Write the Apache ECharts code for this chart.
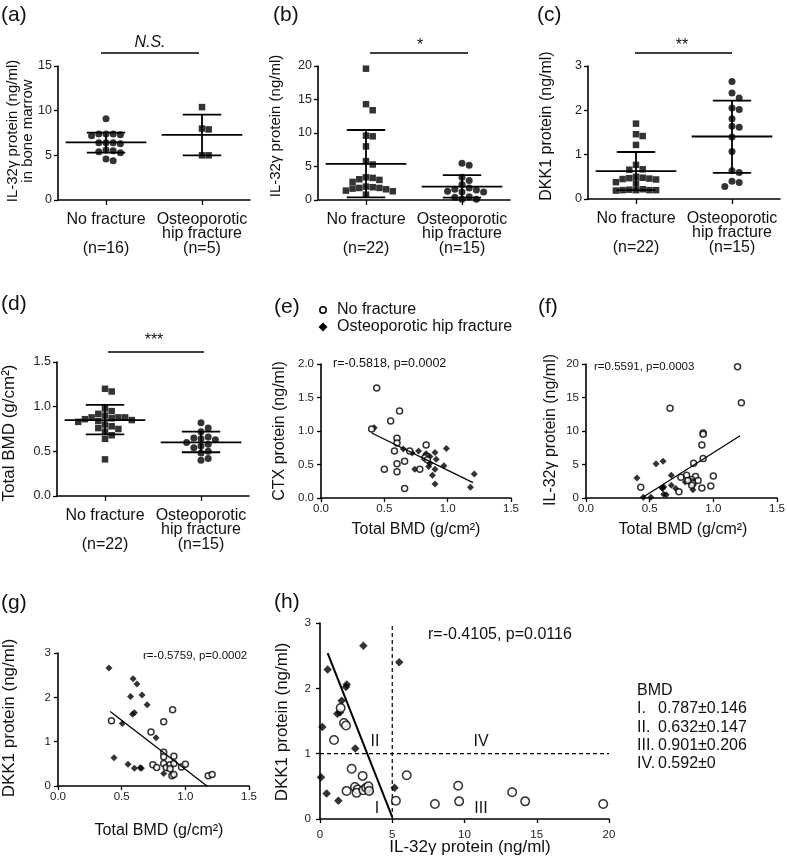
<!DOCTYPE html>
<html><head><meta charset="utf-8">
<script src="https://cdn.jsdelivr.net/npm/echarts@6/dist/echarts.min.js"></script>
<style>html,body{margin:0;padding:0;background:#fff}#c{width:787px;height:865px}</style>
</head><body><div id="c"></div>
<script>
// ---------- DATA ----------
const catNames = ['No fracture', 'Osteoporotic\nhip fracture'];
const nA = ['(n=16)', '(n=5)'];
const nB = ['(n=22)', '(n=15)'];
const nC = ['(n=22)', '(n=15)'];
const nD = ['(n=22)', '(n=15)'];

// (a) IL-32γ in bone marrow
const aNoFx = [9.1, 7.4, 7.4, 7.3, 7.4, 7.2, 6.4, 6.3, 6.4, 6.4, 5.6, 5.4, 5.5, 5.3, 4.6, 4.4];
const aFx = [10.4, 8.0, 7.9, 5.0, 5.0];
const aMean = [6.45, 7.28], aLo = [5.3, 5.0], aHi = [7.55, 9.55];
// (b) IL-32γ serum
const bNoFx = [19.6, 14.3, 13.4, 9.6, 9.5, 8.0, 5.8, 5.3, 3.4, 3.3, 3.1, 3.0, 2.7, 2.0, 1.9, 1.8, 1.8, 1.7, 1.6, 1.4, 1.3, 0.8];
const bFx = [5.5, 5.2, 3.4, 2.9, 2.3, 1.8, 1.6, 1.5, 1.3, 1.2, 1.2, 0.5, 0.4, 0.1, 0.1];
const bMean = [5.4, 2.0], bLo = [0.4, 0.35], bHi = [10.45, 3.7];
// (c) DKK1
const cNoFx = [1.7, 1.46, 1.42, 1.22, 0.77, 0.67, 0.66, 0.5, 0.48, 0.47, 0.46, 0.45, 0.44, 0.38, 0.35, 0.22, 0.21, 0.2, 0.2, 0.2, 0.2, 0.19];
const cFx = [2.65, 2.39, 2.28, 2.05, 2.02, 1.81, 1.64, 1.62, 1.4, 1.07, 0.64, 0.6, 0.4, 0.37, 0.28];
const cMean = [0.63, 1.41], cLo = [0.2, 0.59], cHi = [1.06, 2.22];
// (d) Total BMD
const dNoFx = [1.2, 1.17, 0.98, 0.95, 0.92, 0.9, 0.88, 0.88, 0.88, 0.87, 0.86, 0.85, 0.84, 0.83, 0.8, 0.78, 0.76, 0.75, 0.72, 0.68, 0.64, 0.41];
const dFx = [0.82, 0.76, 0.72, 0.66, 0.65, 0.64, 0.63, 0.6, 0.58, 0.56, 0.54, 0.5, 0.48, 0.42, 0.4];
const dMean = [0.85, 0.6], dLo = [0.69, 0.49], dHi = [1.02, 0.72];

// (e) BMD vs CTX
const eNoFx = [[0.44,1.64],[0.62,1.3],[0.55,1.15],[0.40,1.03],[0.60,0.89],[0.60,0.82],[0.58,0.70],[0.70,0.70],[0.83,0.79],[0.66,0.55],[0.60,0.51],[0.50,0.43],[0.60,0.39],[0.78,0.43],[0.66,0.14],[0.83,0.62],[0.82,0.60],[0.84,0.57]];
const eFx = [[0.42,1.05],[0.65,0.73],[0.72,0.67],[0.77,0.70],[0.83,0.66],[0.86,0.62],[0.90,0.68],[0.99,0.74],[0.91,0.58],[0.86,0.52],[0.85,0.47],[0.97,0.48],[0.90,0.43],[0.88,0.34],[0.90,0.21],[1.18,0.16],[1.21,0.36],[0.74,0.43]];
const eFit = [[0.40,0.97],[1.20,0.23]];
const eStat = 'r=-0.5818, p=0.0002';
// (f) BMD vs IL-32γ
const fNoFx = [[1.19,19.6],[1.22,14.2],[0.66,13.4],[0.92,9.7],[0.92,9.5],[0.91,7.9],[0.92,5.9],[0.845,5.2],[1.0,3.3],[0.79,3.4],[0.745,3.1],[0.86,3.2],[0.83,2.75],[0.83,2.4],[0.84,2.15],[0.83,1.9],[0.88,2.6],[0.98,1.8],[0.91,1.5],[0.80,2.6],[0.43,1.6],[0.73,0.95]];
const fFx = [[0.40,3.0],[0.55,5.1],[0.605,5.5],[0.67,3.4],[0.78,2.4],[0.67,1.9],[0.61,1.65],[0.60,1.4],[0.705,1.4],[0.61,0.55],[0.63,0.5],[0.84,1.25],[0.45,0.1],[0.51,0.1],[0.60,1.55]];
const fFit = [[0.45,0.15],[1.21,9.3]];
const fStat = 'r=0.5591, p=0.0003';
// (g) BMD vs DKK1
const gNoFx = [[0.42,1.47],[0.90,1.72],[0.83,1.45],[0.73,1.22],[0.83,0.76],[0.83,0.66],[0.91,0.67],[0.745,0.48],[0.775,0.42],[0.83,0.51],[0.85,0.42],[0.88,0.48],[0.91,0.51],[0.88,0.39],[0.97,0.43],[1.0,0.49],[0.895,0.23],[0.91,0.26],[1.18,0.23],[1.21,0.26]];
const gFx = [[0.40,2.66],[0.59,2.42],[0.62,2.3],[0.57,2.02],[0.66,2.05],[0.70,1.83],[0.585,1.62],[0.60,1.65],[0.505,1.41],[0.77,1.09],[0.44,0.64],[0.55,0.49],[0.60,0.4],[0.645,0.41],[0.655,0.4],[0.83,0.28]];
const gFit = [[0.41,1.68],[1.17,0.0]];
const gStat = 'r=-0.5759, p=0.0002';
// (h) IL-32γ vs DKK1
const hNoFx = [[0.97,1.21],[1.43,1.7],[1.66,1.47],[1.8,1.43],[2.19,0.77],[2.95,0.66],[1.84,0.43],[2.42,0.49],[2.6,0.45],[2.53,0.40],[3.0,0.44],[3.2,0.48],[3.35,0.5],[3.4,0.43],[6.0,0.67],[5.25,0.28],[7.95,0.23],[9.56,0.51],[9.63,0.27],[13.3,0.41],[14.2,0.27],[19.6,0.23]];
const hFx = [[0.53,2.29],[3.0,2.65],[5.48,2.4],[1.8,2.02],[1.85,2.06],[1.5,1.81],[1.38,1.63],[1.2,1.61],[0.16,1.41],[2.44,1.08],[0.07,0.64],[0.46,0.39],[1.27,0.28],[5.16,0.48],[3.45,0.42]];
const hFit = [[0.53,2.54],[5.0,0.03]];
const hCutX = 5, hCutY = 1;
const hStat = 'r=-0.4105, p=0.0116';
const quadNames = ['I.', 'II.', 'III.', 'IV.'];
const quadMean = ['0.787', '0.632', '0.901', '0.592'];
const quadSd = ['0.146', '0.147', '0.206', '0'];
const quadLabels = ['I', 'II', 'III', 'IV'];
const legendNames = ['No fracture', 'Osteoporotic hip fracture'];

// ---------- LAYOUT ----------
const FF = '"Liberation Sans", Arial, Helvetica, sans-serif';
const grids = [
  {left:58, top:66, width:192, height:134},
  {left:318, top:66, width:192, height:134},
  {left:588, top:66, width:192, height:133},
  {left:57, top:362, width:192, height:134},
  {left:321, top:364, width:190, height:134},
  {left:586, top:364, width:191, height:134},
  {left:58, top:653, width:191, height:133},
  {left:320, top:623, width:289, height:196}
];

const dotPanels = [
  {g:0, yMax:15, yInt:5, dec:0, ns:nA, v1:aNoFx, v2:aFx, s1:'circle', s2:'rect', mean:aMean, lo:aLo, hi:aHi},
  {g:1, yMax:20, yInt:5, dec:0, ns:nB, v1:bNoFx, v2:bFx, s1:'rect', s2:'circle', mean:bMean, lo:bLo, hi:bHi},
  {g:2, yMax:3, yInt:1, dec:0, ns:nC, v1:cNoFx, v2:cFx, s1:'rect', s2:'circle', mean:cMean, lo:cLo, hi:cHi},
  {g:3, yMax:1.5, yInt:0.5, dec:1, ns:nD, v1:dNoFx, v2:dFx, s1:'rect', s2:'circle', mean:dMean, lo:dLo, hi:dHi}
];
const scatPanels = [
  {g:4, xMax:1.5, xInt:0.5, xDec:1, yMax:2.0, yInt:0.5, yDec:1, circ:eNoFx, dia:eFx, fit:eFit, cs:6, ds:7, lw:1.3},
  {g:5, xMax:1.5, xInt:0.5, xDec:1, yMax:20, yInt:5, yDec:0, circ:fNoFx, dia:fFx, fit:fFit, cs:6, ds:7, lw:1.3},
  {g:6, xMax:1.5, xInt:0.5, xDec:1, yMax:3, yInt:1, yDec:0, circ:gNoFx, dia:gFx, fit:gFit, cs:6, ds:7, lw:1.3},
  {g:7, xMax:20, xInt:5, xDec:0, yMax:3, yInt:1, yDec:0, circ:hNoFx, dia:hFx, fit:hFit, cs:8.5, ds:8.5, lw:2, cuts:true}
];

function swarm(vals, ppu, size) {
  const idx = vals.map((v, i) => i).sort((a, b) => vals[b] - vals[a]);
  const placed = [], off = new Array(vals.length).fill(0);
  for (const i of idx) {
    const y = vals[i] * ppu;
    for (let k = 0; k < 60; k++) {
      const dx = k === 0 ? 0 : (k % 2 ? 1 : -1) * Math.ceil(k / 2) * size;
      if (placed.every(p => Math.hypot(p.x - dx, p.y - y) >= size * 0.95)) {
        off[i] = dx; placed.push({x: dx, y}); break;
      }
    }
  }
  return off;
}

const axisLineStyle = {color:'#000', width:1.6};
function valAxis(gi, max, interval, dec, fs, margin) {
  return {type:'value', gridIndex:gi, min:0, max, interval,
    axisLine:{show:true, onZero:false, lineStyle:axisLineStyle},
    axisTick:{show:true, length:4, lineStyle:{color:'#000', width:1.3}},
    splitLine:{show:false},
    axisLabel:{fontSize:fs, color:'#222', fontFamily:FF, margin, showMinLabel:true, showMaxLabel:true,
      formatter: v => v.toFixed(dec)}};
}

const xAxes = [], yAxes = [], series = [];

function renderErr(params, api) {
  const x = api.value(0);
  const c = api.coord([x, api.value(1)]);
  const lo = api.coord([x, api.value(2)]);
  const hi = api.coord([x, api.value(3)]);
  const band = api.size([1, 0])[0];
  const mw = band * 0.42, cw = band * 0.2;
  const style = {stroke:'#000', lineWidth:1.8};
  return {type:'group', children:[
    {type:'line', shape:{x1:c[0]-mw, y1:c[1], x2:c[0]+mw, y2:c[1]}, style},
    {type:'line', shape:{x1:lo[0], y1:lo[1], x2:hi[0], y2:hi[1]}, style},
    {type:'line', shape:{x1:lo[0]-cw, y1:lo[1], x2:lo[0]+cw, y2:lo[1]}, style},
    {type:'line', shape:{x1:hi[0]-cw, y1:hi[1], x2:hi[0]+cw, y2:hi[1]}, style}
  ]};
}

dotPanels.forEach(p => {
  const ai = xAxes.length;
  xAxes.push({type:'category', gridIndex:p.g, data:catNames, boundaryGap:true,
    axisLine:{show:true, onZero:false, lineStyle:axisLineStyle},
    axisTick:{show:true, alignWithLabel:true, length:5, lineStyle:{color:'#000', width:1.3}},
    splitLine:{show:false},
    axisLabel:{interval:0, fontSize:16, lineHeight:14.5, margin:12, color:'#111', fontFamily:FF,
      formatter:(v, i) => { const l = v.split('\n'); while (l.length < 2) l.push(''); return l.concat(p.ns[i]).join('\n'); }}});
  yAxes.push(valAxis(p.g, p.yMax, p.yInt, p.dec, 12.5, 6));
  const ppu = grids[p.g].height / p.yMax;
  [[p.v1, p.s1, 0], [p.v2, p.s2, 1]].forEach(([vals, sym, ci]) => {
    const size = sym === 'rect' ? 6.5 : 7;
    const off = swarm(vals, ppu, size + 0.2);
    series.push({type:'scatter', xAxisIndex:ai, yAxisIndex:ai, symbol:sym, symbolSize:size, z:2,
      itemStyle:{color:'#000'},
      data: vals.map((v, i) => ({value:[ci, v], symbolOffset:[off[i], 0]}))});
  });
  series.push({type:'custom', xAxisIndex:ai, yAxisIndex:ai, z:3, renderItem:renderErr,
    encode:{x:0, y:1},
    data: p.mean.map((m, i) => [i, m, p.lo[i], p.hi[i]])});
});

scatPanels.forEach(p => {
  const ai = xAxes.length;
  const fs = 11.5;
  xAxes.push(valAxis(p.g, p.xMax, p.xInt, p.xDec, fs, p.cuts ? 10 : 5));
  yAxes.push(valAxis(p.g, p.yMax, p.yInt, p.yDec, fs, p.cuts ? 9 : 7));
  series.push({type:'scatter', xAxisIndex:ai, yAxisIndex:ai, symbol:'diamond', symbolSize:p.ds, z:2,
    itemStyle:{color:'#000'}, data:p.dia});
  series.push({type:'scatter', xAxisIndex:ai, yAxisIndex:ai, symbol:'circle', symbolSize:p.cs, z:3,
    itemStyle:{color:'#fff', borderColor:'#000', borderWidth:1.5}, data:p.circ});
  series.push({type:'line', xAxisIndex:ai, yAxisIndex:ai, symbol:'none', showSymbol:false, z:4,
    lineStyle:{color:'#000', width:p.lw}, data:p.fit});
  if (p.cuts) {
    series.push({type:'line', xAxisIndex:ai, yAxisIndex:ai, symbol:'none', showSymbol:false, z:1,
      lineStyle:{color:'#000', width:1.2, type:[4,3]}, data:[[hCutX, 0], [hCutX, p.yMax]]});
    series.push({type:'line', xAxisIndex:ai, yAxisIndex:ai, symbol:'none', showSymbol:false, z:1,
      lineStyle:{color:'#000', width:1.2, type:[4,3]}, data:[[0, hCutY], [p.xMax, hCutY]]});
  }
});

// ---------- TEXT / GRAPHIC ----------
const R = Math.PI / 2;
function txt(x, y, text, size, o) {
  o = o || {};
  const al = o.align || 'center', va = o.valign || 'middle';
  return {type:'text', x, y, rotation:o.rot || 0, z:10,
    style:{text, fontSize:size, fontFamily:FF, fontStyle:o.italic ? 'italic' : 'normal', fill:'#111',
      textAlign:al, textVerticalAlign:va, align:al, verticalAlign:va, lineHeight:o.lh}};
}
function seg(x1, y1, x2, y2) {
  return {type:'line', z:10, shape:{x1, y1, x2, y2}, style:{stroke:'#000', lineWidth:1.5}};
}
const G = [
  txt(1, 15, '(a)', 21, {align:'left'}), txt(273, 15, '(b)', 21, {align:'left'}), txt(537, 15, '(c)', 21, {align:'left'}),
  txt(1, 304, '(d)', 21, {align:'left'}), txt(274, 307, '(e)', 21, {align:'left'}), txt(538, 307, '(f)', 21, {align:'left'}),
  txt(1, 603, '(g)', 21, {align:'left'}), txt(274, 602, '(h)', 21, {align:'left'}),
  // y axis names
  txt(20.5, 131, 'IL-32γ protein (ng/ml)\nin bone marrow', 15, {rot:R, lh:15}),
  txt(276, 126, 'IL-32γ protein (ng/ml)', 15, {rot:R}),
  txt(547, 126, 'DKK1 protein (ng/ml)', 16, {rot:R}),
  txt(9, 433, 'Total BMD (g/cm²)', 17, {rot:R}),
  txt(280, 431, 'CTX protein (ng/ml)', 16, {rot:R}),
  txt(551, 430, 'IL-32γ protein (ng/ml)', 16, {rot:R}),
  txt(9, 718, 'DKK1 protein (ng/ml)', 17, {rot:R}),
  txt(282, 722, 'DKK1 protein (ng/ml)', 17, {rot:R}),
  // x axis names
  txt(416, 530, 'Total BMD (g/cm²)', 16),
  txt(683, 530, 'Total BMD (g/cm²)', 16),
  txt(159, 831, 'Total BMD (g/cm²)', 16),
  txt(470, 847, 'IL-32γ protein (ng/ml)', 17),
  // significance
  seg(101, 53, 199, 53), txt(150, 43, 'N.S.', 16, {italic:true}),
  seg(370, 53, 468, 53), txt(420, 46, '*', 16),
  seg(635, 53, 732, 53), txt(682, 46, '**', 16),
  seg(108, 352, 204, 352), txt(154, 341, '***', 16),
  // stats
  txt(333, 364, eStat, 12.5, {align:'left'}),
  txt(594, 367, fStat, 11.5, {align:'left'}),
  txt(143, 656, gStat, 11.5, {align:'left'}),
  txt(428, 635, hStat, 16, {align:'left'}),
  // legend (e)
  {type:'circle', z:10, shape:{cx:323, cy:310, r:3.2}, style:{fill:'#fff', stroke:'#000', lineWidth:1.5}},
  {type:'polygon', z:10, shape:{points:[[323,322.5],[327.5,327],[323,331.5],[318.5,327]]}, style:{fill:'#000'}},
  txt(337, 310, legendNames[0], 16, {align:'left'}),
  txt(337, 327, legendNames[1], 16, {align:'left'}),
  // quadrant labels (h)
  txt(375, 742, quadLabels[1], 16), txt(481, 742, quadLabels[3], 16),
  txt(377, 809, quadLabels[0], 16), txt(481, 809, quadLabels[2], 16),
  txt(637, 691, 'BMD', 16, {align:'left'})
];
quadNames.forEach((q, i) => {
  G.push(txt(637, 709 + i * 18.2, q, 16, {align:'left'}));
  G.push(txt(658, 709 + i * 18.2, quadMean[i] + '±' + quadSd[i], 16, {align:'left'}));
});

const chart = echarts.init(document.getElementById('c'), null, {renderer:'canvas'});
chart.setOption({
  animation:false,
  backgroundColor:'#fff',
  textStyle:{fontFamily:FF},
  grid: grids.map(g => Object.assign({containLabel:false, outerBoundsMode:'none'}, g)),
  xAxis: xAxes, yAxis: yAxes, series,
  graphic: {elements: G}
});
</script></body></html>
